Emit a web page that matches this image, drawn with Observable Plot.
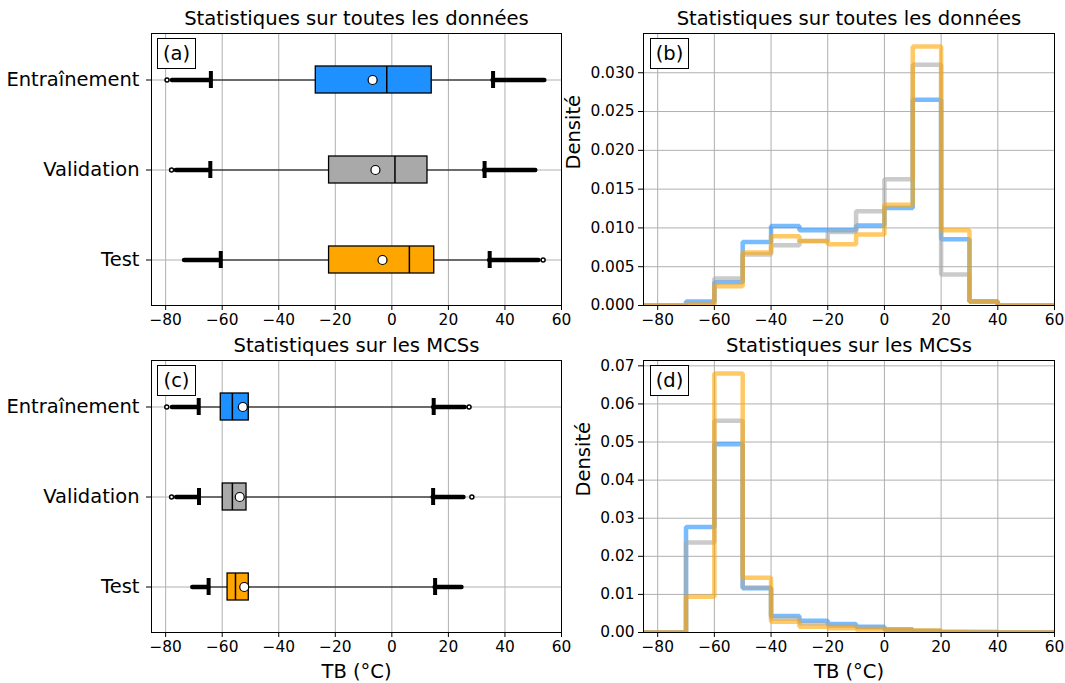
<!DOCTYPE html>
<html><head><meta charset="utf-8">
<script src="https://cdn.jsdelivr.net/npm/d3@7"></script>
<script src="https://cdn.jsdelivr.net/npm/@observablehq/plot@0.6"></script>
<style>
body{margin:0;background:#fff;}
#fig{position:relative;width:1065px;height:683px;font-family:"DejaVu Sans",sans-serif;background:#fff;overflow:hidden;}
.panel{position:absolute;}
.tag{position:absolute;box-sizing:border-box;border:1px solid #000;background:#fff;font-size:19.5px;color:#000;display:flex;align-items:center;justify-content:center;}
</style></head><body><div id="fig"></div>
<script>
// ---------- data ----------
const sets = ["Entraînement", "Validation", "Test"];
const setColors = ["#1E90FF", "#A9A9A9", "#FFA500"];
const xTicks = [-80, -60, -40, -20, 0, 20, 40, 60];

// Box statistics, all data (a)
const allQ1 = [-26.9, -22.2, -22.2];
const allMedian = [-1.8, 1.1, 6.2];
const allQ3 = [14.1, 12.6, 15.0];
const allMean = [-6.8, -5.8, -3.3];
const allWhiskerLow = [-64.0, -64.2, -60.5];
const allWhiskerHigh = [35.8, 32.8, 34.6];
const allFlierMin = [-77.6, -76.2, -73.3];
const allFlierMax = [54.1, 50.9, 52.0];
const allIsolatedSet = ["Entraînement", "Validation", "Test"];
const allIsolatedVal = [-79.5, -77.9, 53.5];

// Box statistics, MCSs (c)
const mcsQ1 = [-60.5, -59.8, -58.1];
const mcsMedian = [-56.4, -56.4, -55.3];
const mcsQ3 = [-50.6, -51.4, -50.6];
const mcsMean = [-52.7, -53.8, -52.2];
const mcsWhiskerLow = [-68.3, -68.2, -64.8];
const mcsWhiskerHigh = [14.8, 14.6, 15.3];
const mcsFlierMin = [-77.6, -76.1, -70.4];
const mcsFlierMax = [25.9, 25.5, 24.8];
const mcsIsolatedSet = ["Entraînement", "Entraînement", "Validation", "Validation"];
const mcsIsolatedVal = [-79.6, 27.3, -77.9, 28.3];

// Histograms (density), bin edges every 10 °C
const histEdges = [-90, -80, -70, -60, -50, -40, -30, -20, -10, 0, 10, 20, 30, 40, 50, 60, 70];
const allHistTrain = [0, 0, 0.0005, 0.0030, 0.0082, 0.01025, 0.0097, 0.0097, 0.0103, 0.01257, 0.02652, 0.00854, 0.0005, 0, 0, 0];
const allHistVal   = [0, 0, 0.0003, 0.00347, 0.00656, 0.00776, 0.00832, 0.00948, 0.01214, 0.01626, 0.03103, 0.00399, 0.0005, 0, 0, 0];
const allHistTest  = [0, 0, 0.0001, 0.00249, 0.00682, 0.00892, 0.00832, 0.0079, 0.00914, 0.0130, 0.03339, 0.0097, 0.0005, 0, 0, 0];
const mcsHistTrain = [0, 0, 0.0277, 0.0494, 0.0116, 0.0043, 0.0031, 0.0022, 0.0015, 0.0008, 0.0004, 0.0001, 0.0001, 0, 0, 0];
const mcsHistVal   = [0, 0, 0.0236, 0.0556, 0.0118, 0.0037, 0.0024, 0.0018, 0.0014, 0.0008, 0.0004, 0.0001, 0.0001, 0, 0, 0];
const mcsHistTest  = [0, 0, 0.0094, 0.0680, 0.0144, 0.0028, 0.0015, 0.0011, 0.0008, 0.0006, 0.0005, 0.0001, 0, 0, 0, 0];
const allDensTicks = [0, 0.005, 0.010, 0.015, 0.020, 0.025, 0.030];
const mcsDensTicks = [0, 0.01, 0.02, 0.03, 0.04, 0.05, 0.06, 0.07];

const titleAll = "Statistiques sur toutes les données";
const titleMcs = "Statistiques sur les MCSs";

// ---------- helpers ----------
const minus = d => String(d).replace("-", "\u2212");
const GRID = "#b0b0b0";
const TITLE_SIZE = 19.6;
const LABEL_SIZE = 19.5;
const TICK_SIZE = 15.4;
const baseStyle = {fontFamily: "DejaVu Sans, sans-serif", fontSize: "15px", color: "black", background: "transparent", overflow: "visible"};

function boxRows(q1, med, q3, mean, wLo, wHi, fMin, fMax) {
  return sets.map((s, i) => ({set: s, q1: q1[i], med: med[i], q3: q3[i], mean: mean[i], wLo: wLo[i], wHi: wHi[i], fMin: fMin[i], fMax: fMax[i]}));
}

function boxPlot(rows, iso, title, withXLabel, h) {
  const marks = [
    Plot.gridX(xTicks, {stroke: GRID, strokeOpacity: 1, strokeWidth: 1}),
    Plot.gridY(sets, {stroke: GRID, strokeOpacity: 1, strokeWidth: 1}),
    Plot.ruleY(rows, {y: "set", x1: "wLo", x2: "wHi", stroke: "black", strokeWidth: 1.2}),
    Plot.ruleY(rows, {y: "set", x1: "fMin", x2: "wLo", stroke: "black", strokeWidth: 4.5, strokeLinecap: "round"}),
    Plot.ruleY(rows, {y: "set", x1: "wHi", x2: "fMax", stroke: "black", strokeWidth: 4.5, strokeLinecap: "round"}),
    Plot.tickX(rows, {y: "set", x: "wLo", stroke: "black", strokeWidth: 4, insetTop: 5, insetBottom: 5}),
    Plot.tickX(rows, {y: "set", x: "wHi", stroke: "black", strokeWidth: 4, insetTop: 5, insetBottom: 5}),
    Plot.barX(rows, {y: "set", x1: "q1", x2: "q3", fill: "set", stroke: "black", strokeWidth: 1.3}),
    Plot.tickX(rows, {y: "set", x: "med", stroke: "black", strokeWidth: 1.5}),
    Plot.dot(rows, {y: "set", x: "mean", r: 4.5, fill: "white", stroke: "black", strokeWidth: 1.2}),
    Plot.dot(iso, {y: "set", x: "v", r: 2, fill: "white", stroke: "black", strokeWidth: 1.5}),
    Plot.axisX(xTicks, {tickFormat: minus, fontSize: TICK_SIZE, tickSize: 5, tickPadding: 4, label: null}),
    Plot.axisY(sets, {fontSize: LABEL_SIZE, tickSize: 5, tickPadding: 7, label: null}),
    Plot.frame({stroke: "black", strokeWidth: 1}),
    Plot.text([title], {frameAnchor: "top", dy: -15, fontSize: TITLE_SIZE, lineAnchor: "middle", fill: "black"})
  ];
  if (withXLabel) marks.push(Plot.text(["TB (°C)"], {frameAnchor: "bottom", dy: 39, fontSize: LABEL_SIZE, lineAnchor: "middle", fill: "black"}));
  return Plot.plot({
    width: 565, height: h,
    marginLeft: 151, marginRight: 4, marginTop: 33, marginBottom: h - 33 - 272,
    style: baseStyle,
    x: {domain: [-85, 60]},
    y: {type: "band", domain: sets, paddingInner: 0.7, paddingOuter: 0.35},
    color: {domain: sets, range: setColors},
    marks
  });
}

function stepPoints(values, name) {
  const pts = [{x: histEdges[0], y: 0, s: name}];
  values.forEach((v, i) => { pts.push({x: histEdges[i], y: v, s: name}); pts.push({x: histEdges[i + 1], y: v, s: name}); });
  pts.push({x: histEdges[histEdges.length - 1], y: 0, s: name});
  return pts;
}

function histPlot(series, yTicks, fmt, title, withXLabel, h, labelDx) {
  const pts = series.flatMap((vals, i) => stepPoints(vals, sets[i]));
  const ymax = d3.max(series.flat()) * 1.05;
  const marks = [
    Plot.gridX(xTicks, {stroke: GRID, strokeOpacity: 1, strokeWidth: 1}),
    Plot.gridY(yTicks, {stroke: GRID, strokeOpacity: 1, strokeWidth: 1}),
    Plot.line(pts, {x: "x", y: "y", z: "s", stroke: "s", strokeWidth: 4.5, strokeOpacity: 0.6, strokeLinejoin: "miter", clip: true}),
    Plot.axisX(xTicks, {tickFormat: minus, fontSize: TICK_SIZE, tickSize: 5, tickPadding: 4, label: null}),
    Plot.axisY(yTicks, {tickFormat: d3.format(fmt), fontSize: TICK_SIZE, tickSize: 5, tickPadding: 4, label: null}),
    Plot.frame({stroke: "black", strokeWidth: 1}),
    Plot.text([title], {frameAnchor: "top", dy: -15, fontSize: TITLE_SIZE, lineAnchor: "middle", fill: "black"}),
    Plot.text(["Densité"], {frameAnchor: "left", dx: labelDx, rotate: -90, fontSize: LABEL_SIZE, fill: "black"})
  ];
  if (withXLabel) marks.push(Plot.text(["TB (°C)"], {frameAnchor: "bottom", dy: 39, fontSize: LABEL_SIZE, lineAnchor: "middle", fill: "black"}));
  return Plot.plot({
    width: 500, height: h,
    marginLeft: 78, marginRight: 11, marginTop: 33, marginBottom: h - 33 - 272,
    style: baseStyle,
    x: {domain: [-85, 60]},
    y: {domain: [0, ymax]},
    color: {domain: sets, range: setColors},
    marks
  });
}

// ---------- build ----------
const fig = document.getElementById("fig");
function place(node, left, top) {
  node.classList.add("panel");
  node.style.left = left + "px";
  node.style.top = top + "px";
  fig.appendChild(node);
}
function tag(text, left, top) {
  const d = document.createElement("div");
  d.className = "tag";
  d.textContent = text;
  Object.assign(d.style, {left: left + "px", top: top + "px", width: "39px", height: "31px"});
  fig.appendChild(d);
}

const allRows = boxRows(allQ1, allMedian, allQ3, allMean, allWhiskerLow, allWhiskerHigh, allFlierMin, allFlierMax);
const mcsRows = boxRows(mcsQ1, mcsMedian, mcsQ3, mcsMean, mcsWhiskerLow, mcsWhiskerHigh, mcsFlierMin, mcsFlierMax);
const allIso = allIsolatedSet.map((s, i) => ({set: s, v: allIsolatedVal[i]}));
const mcsIso = mcsIsolatedSet.map((s, i) => ({set: s, v: mcsIsolatedVal[i]}));

place(boxPlot(allRows, allIso, titleAll, false, 340), 0, 0);
place(boxPlot(mcsRows, mcsIso, titleMcs, true, 356), 0, 327);
place(histPlot([allHistTrain, allHistVal, allHistTest], allDensTicks, ".3f", titleAll, false, 340, -70), 565, 0);
place(histPlot([mcsHistTrain, mcsHistVal, mcsHistTest], mcsDensTicks, ".2f", titleMcs, true, 356, -60), 565, 327);

tag("(a)", 157, 38);
tag("(b)", 650, 38);
tag("(c)", 157, 365);
tag("(d)", 650, 365);
</script>
</body></html>
